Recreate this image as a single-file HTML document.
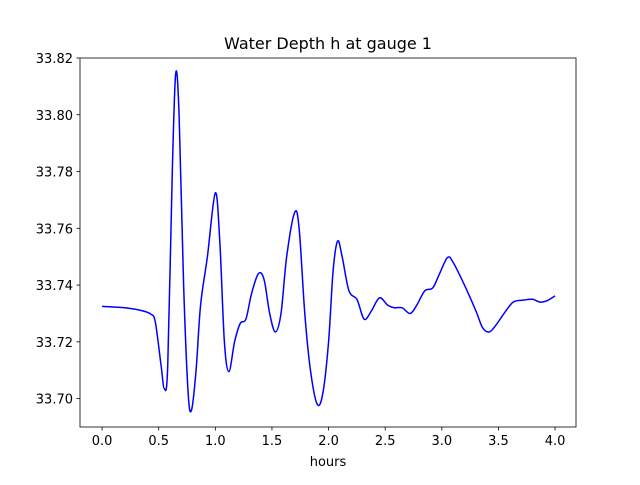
<!DOCTYPE html>
<html><head><meta charset="utf-8"><style>
body{margin:0;background:#fff}
svg text{font-family:"DejaVu Sans","Liberation Sans",sans-serif;fill:#000}
</style></head><body>
<svg id="chart" width="640" height="480" xmlns="http://www.w3.org/2000/svg">
<rect width="640" height="480" fill="#fff"/>
<text x="328" y="49" font-size="16" text-anchor="middle">Water Depth h at gauge 1</text>
<g id="axes"></g>
<text x="328" y="466" font-size="13" text-anchor="middle">hours</text>
</svg>
<script>
const times=[0.0,0.2,0.35,0.43,0.47,0.52,0.55,0.58,0.62,0.65,0.68,0.72,0.76,0.79,0.83,0.87,0.93,1.0,1.04,1.08,1.12,1.17,1.22,1.27,1.32,1.38,1.43,1.48,1.53,1.58,1.63,1.70,1.74,1.79,1.84,1.90,1.95,2.0,2.04,2.08,2.12,2.18,2.25,2.30,2.33,2.38,2.45,2.52,2.58,2.65,2.72,2.78,2.85,2.92,2.98,3.05,3.1,3.2,3.3,3.36,3.42,3.48,3.55,3.63,3.72,3.80,3.87,3.93,4.0];
const depths=[33.7325,33.732,33.731,33.7298,33.727,33.712,33.7035,33.712,33.78,33.8145,33.80,33.74,33.702,33.696,33.710,33.733,33.75,33.7725,33.755,33.72,33.7095,33.72,33.7265,33.728,33.737,33.744,33.742,33.73,33.7235,33.73,33.75,33.7655,33.76,33.73,33.71,33.698,33.702,33.72,33.745,33.7555,33.75,33.738,33.735,33.729,33.728,33.731,33.7355,33.733,33.732,33.732,33.730,33.733,33.738,33.739,33.744,33.7497,33.748,33.740,33.731,33.725,33.7235,33.726,33.730,33.734,33.7347,33.735,33.734,33.7345,33.7362];
const xTicks=[0.0,0.5,1.0,1.5,2.0,2.5,3.0,3.5,4.0];
const yTicks=[33.70,33.72,33.74,33.76,33.78,33.80,33.82];
const L=80,R=576,T=58,B=427,xMin=-0.195,xMax=4.185,yMin=33.69,yMax=33.82;
const sx=v=>L+(v-xMin)/(xMax-xMin)*(R-L);
const sy=v=>B-(v-yMin)/(yMax-yMin)*(B-T);
const NS="http://www.w3.org/2000/svg";
const g=document.getElementById('axes');
function mk(tag,attrs){const e=document.createElementNS(NS,tag);for(const k in attrs)e.setAttribute(k,attrs[k]);g.appendChild(e);return e;}
const pts=times.map((t,i)=>[sx(t),sy(depths[i])]);
let d=`M${pts[0][0]},${pts[0][1]}`;
for(let i=0;i<pts.length-1;i++){
 const p0=pts[Math.max(0,i-1)],p1=pts[i],p2=pts[i+1],p3=pts[Math.min(pts.length-1,i+2)];
 const c1=[p1[0]+(p2[0]-p0[0])/6,p1[1]+(p2[1]-p0[1])/6];
 const c2=[p2[0]-(p3[0]-p1[0])/6,p2[1]-(p3[1]-p1[1])/6];
 d+=` C${c1[0]},${c1[1]} ${c2[0]},${c2[1]} ${p2[0]},${p2[1]}`;
}
const line=mk('path',{d:d,fill:'none',stroke:'#0000ff','stroke-width':1.5});


const frame=mk('rect',{x:L,y:T,width:R-L,height:B-T,fill:'none',stroke:'#000','stroke-width':0.8});


xTicks.forEach(v=>{
 const x=sx(v);
 const tk=mk('line',{x1:x,x2:x,y1:B,y2:B+3.5,stroke:'#000','stroke-width':0.8});
 
 
 const tx=mk('text',{x:x,y:B+18,'font-size':13,'text-anchor':'middle'});
 tx.textContent=v.toFixed(1);
 
 
});
yTicks.forEach(v=>{
 const y=sy(v);
 const tk=mk('line',{x1:L-3.5,x2:L,y1:y,y2:y,stroke:'#000','stroke-width':0.8});
 
 
 const tx=mk('text',{x:L-7,y:y+5,'font-size':13,'text-anchor':'end'});
 tx.textContent=v.toFixed(2);
 
 
});
</script>
</body></html>
